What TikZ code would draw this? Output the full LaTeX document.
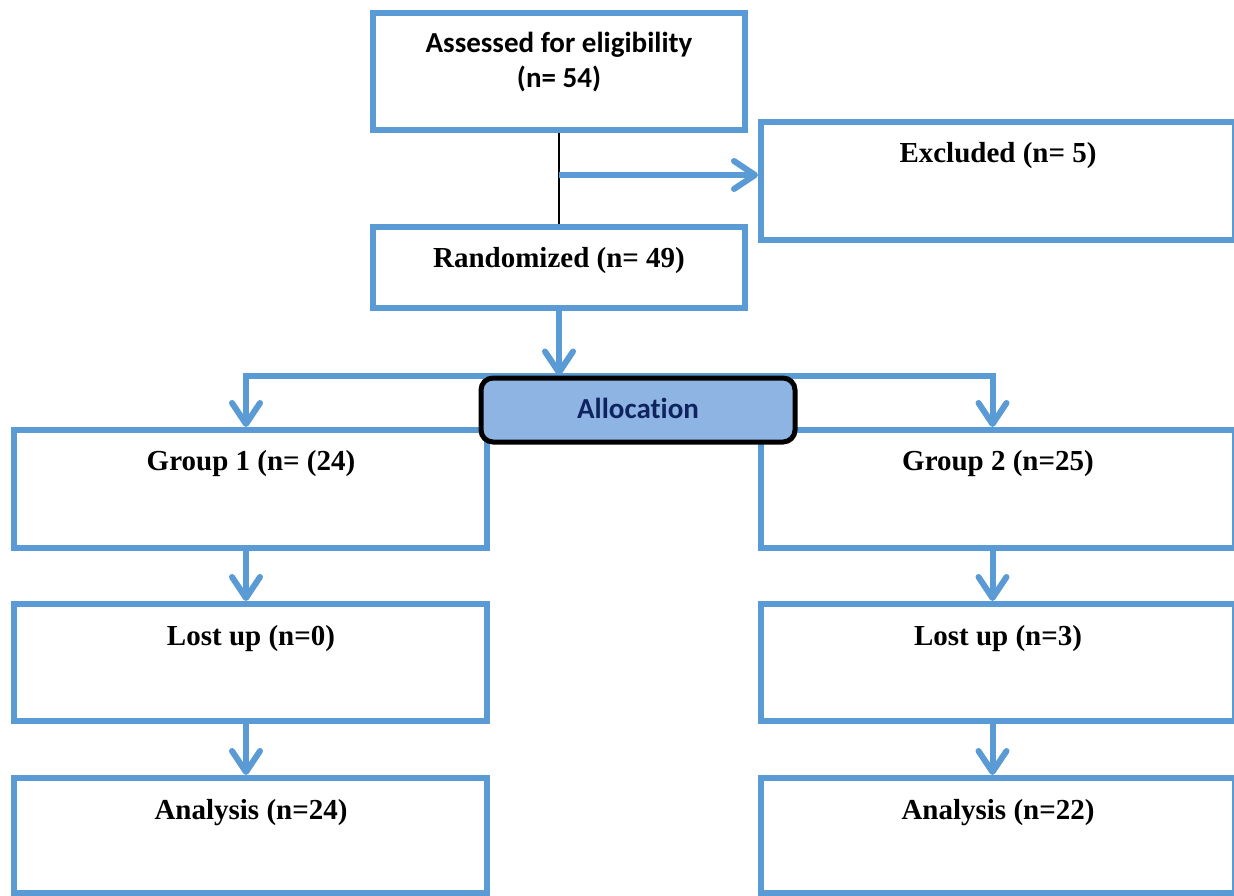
\documentclass[tikz,border=0pt]{standalone}
\usepackage{fontspec}
\setmainfont{Liberation Serif}
\newfontfamily\calib[RawFeature={-liga;-clig;-dlig;-calt}]{Carlito}
\usetikzlibrary{arrows.meta,backgrounds}
\definecolor{bl}{HTML}{5B9BD5}
\definecolor{allocfill}{HTML}{8EB4E3}
\definecolor{navytxt}{HTML}{0F245F}
\tikzset{
  box/.style={draw=bl, line width=6pt, rectangle, inner sep=0pt, fill=white},
  allocbox/.style={draw=black, line width=5pt, rectangle, rounded corners=12pt, inner sep=0pt, fill=allocfill},
  txt/.style={anchor=base, inner sep=0pt, font=\bfseries\fontsize{29}{35}\selectfont},
  caltxt/.style={anchor=base, inner sep=0pt, font=\calib\bfseries\fontsize{29}{35}\selectfont},
  arr/.style={draw=bl, line width=6pt, -{Straight Barb[length=21pt,width=28pt,round]}},
  thinline/.style={draw=black, line width=1.5pt},
}
\begin{document}
\begin{tikzpicture}[x=1pt,y=-1pt]
\useasboundingbox (0,0) rectangle (1234,896);
% boxes
\node[box, minimum width=372pt, minimum height=117pt] (assess) at (559,71.5) {};
\node[box, minimum width=474pt, minimum height=118pt] (excl) at (998,181) {};
\node[box, minimum width=372pt, minimum height=81pt] (rand) at (559,267.5) {};
\node[box, minimum width=473pt, minimum height=118pt] (g1) at (250.5,489) {};
\node[box, minimum width=474pt, minimum height=118pt] (g2) at (998,489) {};
\node[box, minimum width=473pt, minimum height=117pt] (l1) at (250.5,662.5) {};
\node[box, minimum width=474pt, minimum height=117pt] (l2) at (998,662.5) {};
\node[box, minimum width=473pt, minimum height=115pt] (a1) at (250.5,835.5) {};
\node[box, minimum width=474pt, minimum height=115pt] (a2) at (998,835.5) {};
\node[allocbox, minimum width=314pt, minimum height=64pt] (alloc) at (638,410) {};
% texts
\node[caltxt] (tassess1) at (559,53) {Assessed for eligibility};
\node[caltxt] (tassess2) at (559,88) {(n= 54)};
\node[txt] (texcl) at (998,163) {Excluded (n= 5)};
\node[txt] (trand) at (559,267) {Randomized (n= 49)};
\node[caltxt, text=navytxt] (talloc) at (638,418) {Allocation};
\node[txt] (tg1) at (251,470) {Group 1 (n= (24)};
\node[txt] (tg2) at (998,470) {Group 2 (n=25)};
\node[txt] (tl1) at (251,645) {Lost up (n=0)};
\node[txt] (tl2) at (998,645) {Lost up (n=3)};
\node[txt] (ta1) at (251,819) {Analysis (n=24)};
\node[txt] (ta2) at (998,819) {Analysis (n=22)};
% connectors
\coordinate (branch) at (559,175);
\coordinate (split) at (559,376);
\begin{scope}[on background layer]
\draw[thinline] (assess.south) -- (rand.north);
\draw[arr] (branch) -- (branch -| excl.west);
\draw[arr] (rand.south) -- (rand.south |- alloc.north);
\draw[arr] (split) -| ([xshift=-4.5pt]g1.north);
\draw[arr] (split) -| ([xshift=-5.5pt]g2.north);
\draw[arr] ([xshift=-4.5pt]g1.south) -- ([xshift=-4.5pt]l1.north);
\draw[arr] ([xshift=-5.5pt]g2.south) -- ([xshift=-5.5pt]l2.north);
\draw[arr] ([xshift=-4.5pt]l1.south) -- ([xshift=-4.5pt]a1.north);
\draw[arr] ([xshift=-5.5pt]l2.south) -- ([xshift=-5.5pt]a2.north);
\end{scope}
\end{tikzpicture}
\end{document}
